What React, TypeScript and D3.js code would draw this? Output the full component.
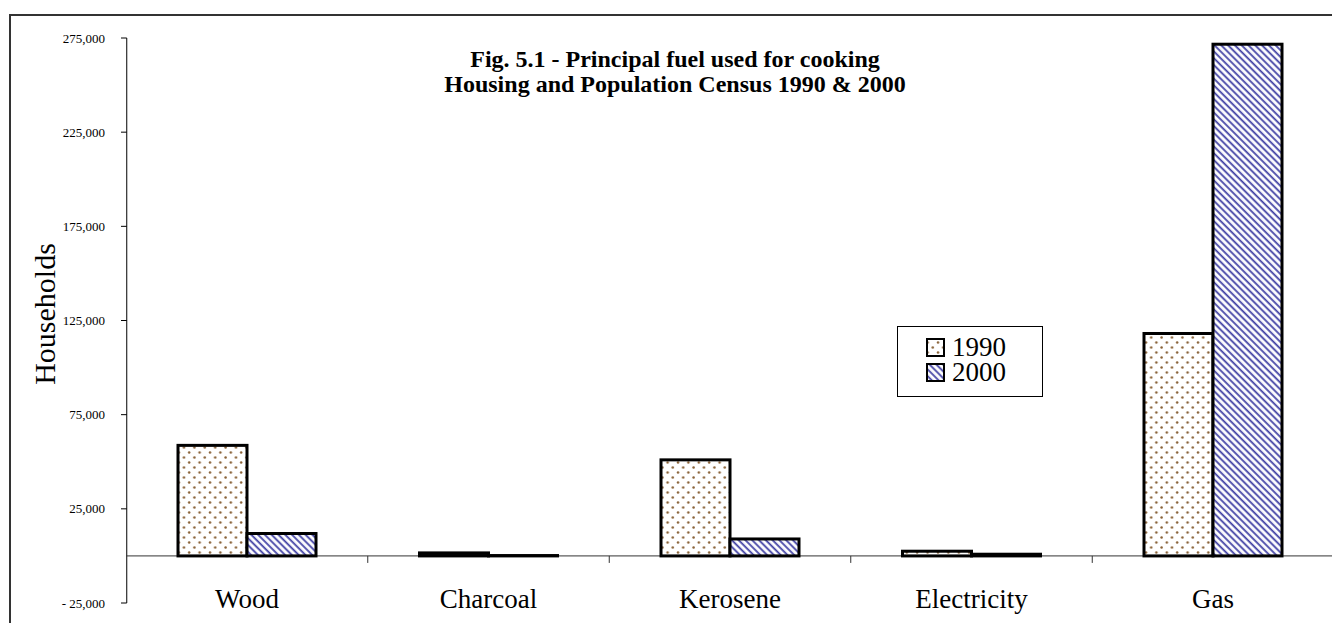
import React from "react";
import * as d3 from "d3";

const categories = ["Wood", "Charcoal", "Kerosene", "Electricity", "Gas"];
const seriesNames = ["1990", "2000"];
const values1990 = [58700, 1600, 51000, 2500, 118100];
const values2000 = [11900, 200, 9000, 900, 271700];
const yTicks = [-25000, 25000, 75000, 125000, 175000, 225000, 275000];
const titleLines = [
  "Fig. 5.1 - Principal fuel used for cooking",
  "Housing and Population Census 1990 & 2000",
];
const yTitle = "Households";

const W = 1332;
const H = 623;
const FONT = "Liberation Serif, Tinos, Times New Roman, DejaVu Serif, serif";

function fmt(v: number) {
  const s = d3.format(",")(Math.abs(v));
  return v < 0 ? "- " + s : s;
}

export default function App() {
  const plotLeft = 126.25;
  const plotRight = 1333.75;
  const y = d3.scaleLinear().domain([-25000, 275000]).range([603, 38]);
  const x0 = d3.scaleBand<string>().domain(categories).range([plotLeft, plotRight]).padding(0);
  const gap = 1.5; // gap width relative to bar width
  const bw = x0.bandwidth() / (seriesNames.length + gap);
  const x1 = d3
    .scaleBand<string>()
    .domain(seriesNames)
    .range([(bw * gap) / 2, (bw * gap) / 2 + bw * seriesNames.length])
    .padding(0);
  const series = [values1990, values2000];
  const fills = ["url(#dots)", "url(#stripes)"];
  const y0 = y(0);

  return (
    <div style={{ position: "fixed", left: 0, top: 0 }}>
      <svg width={W} height={H} style={{ display: "block", background: "#fff", fontFamily: FONT }}>
        <defs>
          <pattern id="dots" width={10.4} height={10} patternUnits="userSpaceOnUse">
            <rect width={10.4} height={10} fill="#fff" />
            <circle cx={2} cy={2.5} r={1.25} fill="#8a6339" />
            <circle cx={7.2} cy={7.5} r={1.25} fill="#8a6339" />
          </pattern>
          <pattern
            id="stripes"
            width={4.8}
            height={10}
            patternUnits="userSpaceOnUse"
            patternTransform="rotate(-45)"
          >
            <rect width={4.8} height={10} fill="#fff" />
            <line x1={1.2} y1={0} x2={1.2} y2={10} stroke="#3f3fa3" strokeWidth={1.8} />
          </pattern>
        </defs>

        {/* outer border */}
        <rect x={10} y={15} width={1400} height={700} fill="none" stroke="#333" strokeWidth={2} />

        {/* title */}
        <text fontWeight="bold" fontSize={24} textAnchor="middle">
          {titleLines.map((t, i) => (
            <tspan key={i} x={675} y={67 + i * 25}>
              {t}
            </tspan>
          ))}
        </text>

        {/* y axis */}
        <line x1={plotLeft + 0.5} x2={plotLeft + 0.5} y1={y(275000)} y2={y(-25000)} stroke="#000" strokeWidth={1} />
        {yTicks.map((t) => (
          <g key={t}>
            <line x1={121} x2={plotLeft + 0.5} y1={y(t)} y2={y(t)} stroke="#000" strokeWidth={1} />
            <text x={105} y={y(t)} dy="0.35em" textAnchor="end" fontSize={13}>
              {fmt(t)}
            </text>
          </g>
        ))}
        <text transform={`translate(55, 314) rotate(-90)`} textAnchor="middle" fontSize={30}>
          {yTitle}
        </text>

        {/* zero line (category axis) */}
        <line x1={plotLeft} x2={plotRight} y1={y0} y2={y0} stroke="#333" strokeWidth={1} />
        {categories.slice(1).map((c) => (
          <line key={c} x1={x0(c)!} x2={x0(c)!} y1={y0} y2={y0 + 7} stroke="#333" strokeWidth={1} />
        ))}

        {/* bars */}
        {categories.map((c, i) => (
          <g key={c}>
            {seriesNames.map((s, j) => {
              const v = series[j][i];
              const bx = x0(c)! + x1(s)!;
              return (
                <rect
                  key={s}
                  x={bx}
                  y={y(v)}
                  width={x1.bandwidth()}
                  height={y0 - y(v)}
                  fill={fills[j]}
                  stroke="#000"
                  strokeWidth={3}
                />
              );
            })}
          </g>
        ))}

        {/* x labels */}
        {categories.map((c) => (
          <text key={c} x={x0(c)! + x0.bandwidth() / 2} y={608} textAnchor="middle" fontSize={27}>
            {c}
          </text>
        ))}

        {/* legend */}
        <rect x={897.5} y={326.5} width={145} height={70} fill="#fff" stroke="#000" strokeWidth={1} />
        {seriesNames.map((s, j) => (
          <g key={s}>
            <rect
              x={927}
              y={339 + j * 25}
              width={17}
              height={17}
              fill={fills[j]}
              stroke="#000"
              strokeWidth={2}
            />
            <text x={952} y={356 + j * 25} fontSize={27}>
              {s}
            </text>
          </g>
        ))}
      </svg>
    </div>
  );
}
